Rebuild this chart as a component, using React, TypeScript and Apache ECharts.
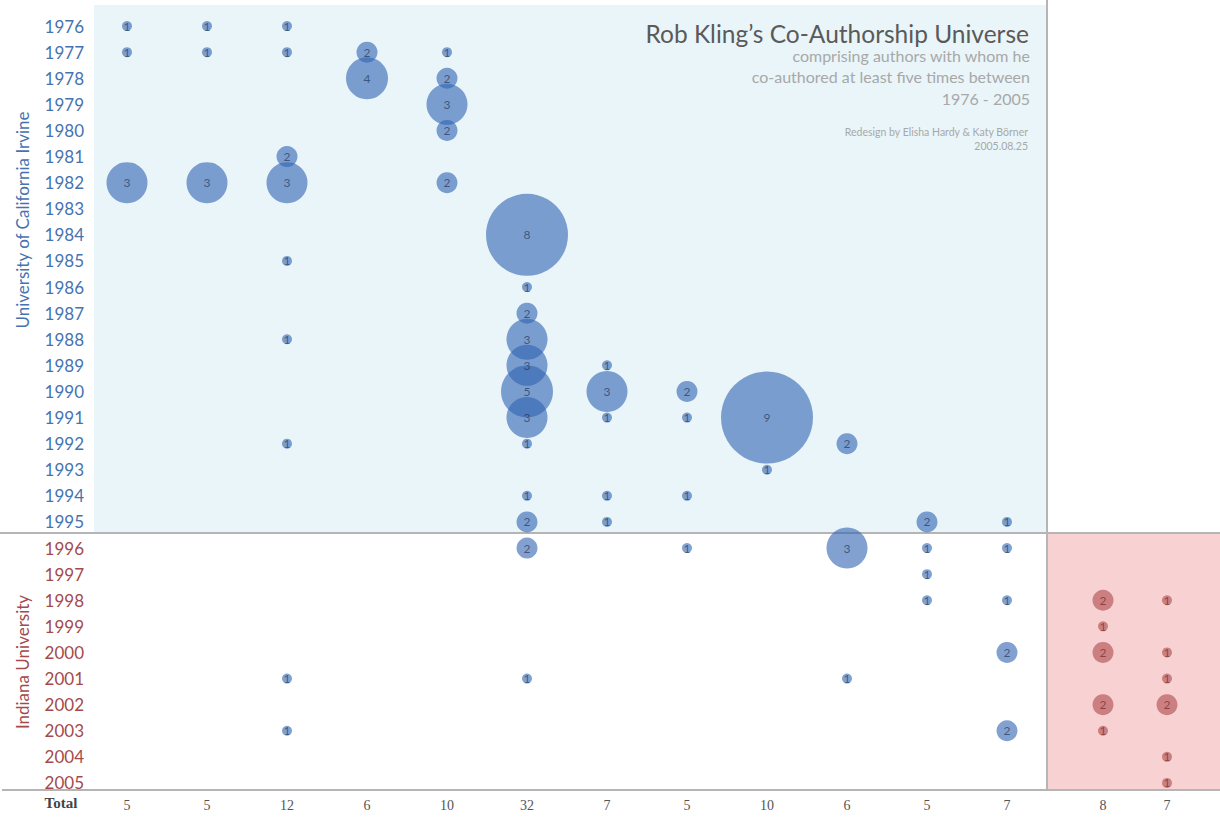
import React, { useEffect, useRef } from "react";
import * as echarts from "echarts";

// Years (rows)
const years: string[] = [];
for (let y = 1976; y <= 2005; y++) years.push(String(y));
const uciYearsEnd = 1995;

// Co-author columns: [year, papers]
const c01: [number, number][] = [[1976, 1], [1977, 1], [1982, 3]];
const c02: [number, number][] = [[1976, 1], [1977, 1], [1982, 3]];
const c03: [number, number][] = [[1976, 1], [1977, 1], [1981, 2], [1982, 3], [1985, 1], [1988, 1], [1992, 1], [2001, 1], [2003, 1]];
const c04: [number, number][] = [[1977, 2], [1978, 4]];
const c05: [number, number][] = [[1977, 1], [1978, 2], [1979, 3], [1980, 2], [1982, 2]];
const c06: [number, number][] = [[1984, 8], [1986, 1], [1987, 2], [1988, 3], [1989, 3], [1990, 5], [1991, 3], [1992, 1], [1994, 1], [1995, 2], [1996, 2], [2001, 1]];
const c07: [number, number][] = [[1989, 1], [1990, 3], [1991, 1], [1994, 1], [1995, 1]];
const c08: [number, number][] = [[1990, 2], [1991, 1], [1994, 1], [1996, 1]];
const c09: [number, number][] = [[1991, 9], [1993, 1]];
const c10: [number, number][] = [[1992, 2], [1996, 3], [2001, 1]];
const c11: [number, number][] = [[1995, 2], [1996, 1], [1997, 1], [1998, 1]];
const c12: [number, number][] = [[1995, 1], [1996, 1], [1998, 1], [2000, 2], [2003, 2]];
const c13: [number, number][] = [[1998, 2], [1999, 1], [2000, 2], [2002, 2], [2003, 1]];
const c14: [number, number][] = [[1998, 1], [2000, 1], [2001, 1], [2002, 2], [2004, 1], [2005, 1]];

const uciColumns = [c01, c02, c03, c04, c05, c06, c07, c08, c09, c10, c11, c12];
const iuColumns = [c13, c14];

const uciTotals = ["5", "5", "12", "6", "10", "32", "7", "5", "10", "6", "5", "7"];
const iuTotals = ["8", "7"];

// style: bubble diameter by value
const diam: Record<number, number> = { 1: 10, 2: 21, 3: 41, 4: 42, 5: 52, 6: 62, 7: 72, 8: 82, 9: 92 };

const blue = "#2f62b0";
const red = "#a83a3e";

function toData(cols: [number, number][][]) {
  const out: [number, string, number][] = [];
  cols.forEach((col, i) => col.forEach(([yr, n]) => out.push([i, String(yr), n])));
  return out;
}

export default function App() {
  const ref = useRef<HTMLDivElement>(null);
  useEffect(() => {
    document.body.style.margin = "0";
    const chart = echarts.init(ref.current!, undefined, { renderer: "svg" });
    const labelFont = "Lato";
    const seriesCommon = (color: string, labelColor: string, opacity: number) => ({
      type: "scatter" as const,
      symbolSize: (v: number[]) => diam[v[2]],
      itemStyle: { color, opacity },
      label: {
        show: true,
        position: "inside",
        formatter: (p: any) => String(p.value[2]),
        color: labelColor,
        fontFamily: labelFont,
        fontSize: 12,
      },
      emphasis: { disabled: true },
    });
    const totalsLabel = {
      color: "#555",
      fontFamily: "Liberation Serif",
      fontSize: 14,
      margin: 2,
    };
    chart.setOption({
      animation: false,
      grid: [
        { left: 87, width: 960, top: 13, height: 783 },
        { left: 1071, width: 128, top: 13, height: 783 },
      ],
      xAxis: [
        {
          gridIndex: 0,
          type: "category",
          data: uciTotals.map((_, i) => "u" + i),
          axisLine: { show: false },
          axisTick: { show: false },
          splitLine: { show: false },
          axisLabel: { ...totalsLabel, formatter: (_: string, i: number) => uciTotals[i] },
        },
        {
          gridIndex: 1,
          type: "category",
          data: iuTotals.map((_, i) => "i" + i),
          axisLine: { show: false },
          axisTick: { show: false },
          splitLine: { show: false },
          axisLabel: { ...totalsLabel, formatter: (_: string, i: number) => iuTotals[i] },
        },
      ],
      yAxis: [
        {
          gridIndex: 0,
          type: "category",
          inverse: true,
          data: years,
          axisLine: { show: false },
          axisTick: { show: false },
          splitLine: { show: false },
          axisLabel: {
            interval: 0,
            margin: 3,
            fontFamily: labelFont,
            fontSize: 17,
            color: (v: string) => (Number(v) <= uciYearsEnd ? "#4673b0" : "#a34a4c"),
          },
        },
        {
          gridIndex: 1,
          type: "category",
          inverse: true,
          data: years,
          show: false,
        },
      ],
      graphic: [
        { type: "rect", z: -10, shape: { x: 94, y: 5, width: 953, height: 528 }, style: { fill: "#e9f5f9" } },
        { type: "rect", z: -10, shape: { x: 1047, y: 533, width: 173, height: 257 }, style: { fill: "#f8d2d3" } },
        { type: "line", z: -5, shape: { x1: 0, y1: 533, x2: 1220, y2: 533 }, style: { stroke: "#b5b5b5", lineWidth: 2 } },
        { type: "line", z: -5, shape: { x1: 2, y1: 790, x2: 1220, y2: 790 }, style: { stroke: "#b5b5b5", lineWidth: 2 } },
        { type: "line", z: -5, shape: { x1: 1047, y1: 0, x2: 1047, y2: 790 }, style: { stroke: "#b5b5b5", lineWidth: 2 } },
        {
          type: "text", x: 1029, y: 33,
          style: { text: "Rob Kling’s Co-Authorship Universe", align: "right", verticalAlign: "middle", fill: "#5a5a5a", font: "24.5px Lato" },
        },
        {
          type: "text", x: 1030, y: 55,
          style: { text: "comprising authors with whom he", align: "right", verticalAlign: "middle", fill: "#a8a8a8", font: "16px Lato" },
        },
        {
          type: "text", x: 1030, y: 76,
          style: { text: "co-authored at least five times between", align: "right", verticalAlign: "middle", fill: "#a8a8a8", font: "16px Lato" },
        },
        {
          type: "text", x: 1030, y: 98,
          style: { text: "1976 - 2005", align: "right", verticalAlign: "middle", fill: "#a8a8a8", font: "16px Lato" },
        },
        {
          type: "text", x: 1028, y: 132,
          style: { text: "Redesign by Elisha Hardy & Katy Börner", align: "right", verticalAlign: "middle", fill: "#a8a8a8", font: "10.5px Lato" },
        },
        {
          type: "text", x: 1028, y: 146,
          style: { text: "2005.08.25", align: "right", verticalAlign: "middle", fill: "#a8a8a8", font: "10.5px Lato" },
        },
        {
          type: "text", x: 22, y: 220, rotation: Math.PI / 2,
          style: { text: "University of California Irvine", align: "center", verticalAlign: "middle", fill: "#4673b0", font: "17px Lato" },
        },
        {
          type: "text", x: 22, y: 662, rotation: Math.PI / 2,
          style: { text: "Indiana University", align: "center", verticalAlign: "middle", fill: "#a34a4c", font: "17px Lato" },
        },
        {
          type: "text", x: 61, y: 803,
          style: { text: "Total", align: "center", verticalAlign: "middle", fill: "#444", font: "bold 15px 'Liberation Serif'" },
        },
      ],
      series: [
        { ...seriesCommon(blue, "#15264a", 0.6), xAxisIndex: 0, yAxisIndex: 0, data: toData(uciColumns) },
        { ...seriesCommon(red, "#4f1416", 0.55), xAxisIndex: 1, yAxisIndex: 1, data: toData(iuColumns) },
      ],
    });
    return () => chart.dispose();
  }, []);
  return <div ref={ref} style={{ width: 1220, height: 821 }} />;
}
